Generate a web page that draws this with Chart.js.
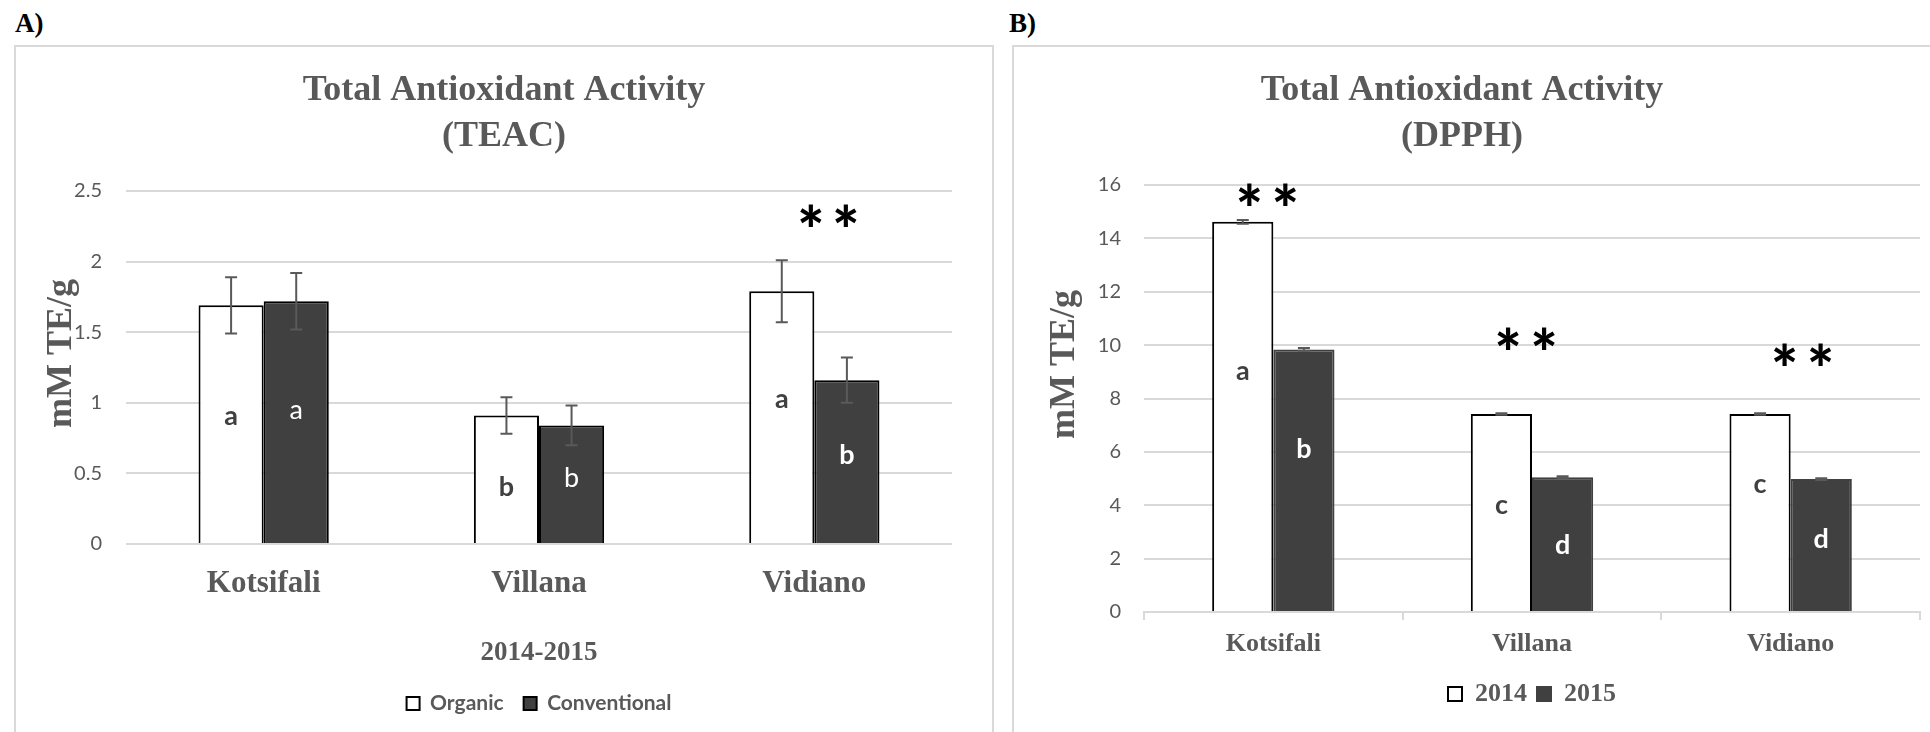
<!DOCTYPE html>
<html><head><meta charset="utf-8">
<script src="https://cdn.jsdelivr.net/npm/chart.js@4.4.1/dist/chart.umd.min.js"></script>
<style>
html,body{margin:0;padding:0;background:#fff;width:1930px;height:732px;overflow:hidden;position:relative}
.panel{position:absolute;border:2px solid #d9d9d9;box-sizing:border-box;pointer-events:none;z-index:2}
.lbl{position:absolute;font-family:"Liberation Serif",serif;font-weight:bold;font-size:27px;color:#000;line-height:27px}
.cw{position:absolute}
</style></head><body>
<div class="lbl" style="left:15px;top:10px">A)</div>
<div class="lbl" style="left:1009px;top:10px">B)</div>
<div class="panel" style="left:14px;top:45px;width:980px;height:760px"></div>
<div class="panel" style="left:1012px;top:45px;width:960px;height:760px"></div>
<div class="cw" style="left:16px;top:47px;width:977px;height:685px"><canvas id="cA"></canvas></div>
<div class="cw" style="left:1004px;top:47px;width:940px;height:685px"><canvas id="cB"></canvas></div>
<script>
// ---------- data ----------
const categories = ['Kotsifali', 'Villana', 'Vidiano'];

// Panel A: TEAC, 2014-2015
const teacSeriesNames = ['Organic', 'Conventional'];
const teacOrganic = [1.69, 0.91, 1.79];
const teacConventional = [1.72, 0.84, 1.16];
const teacOrganicErr = [0.20, 0.13, 0.22];
const teacConventionalErr = [0.20, 0.14, 0.16];
const teacOrganicLetters = ['a', 'b', 'a'];
const teacConventionalLetters = ['a', 'b', 'b'];
const teacStars = [null, null, 2.33];
const teacTickLabels = ['0', '0.5', '1', '1.5', '2', '2.5'];

// Panel B: DPPH, 2014 vs 2015
const dpphSeriesNames = ['2014', '2015'];
const dpph2014 = [14.62, 7.42, 7.42];
const dpph2015 = [9.84, 5.05, 4.98];
const dpph2014Err = [0.07, 0.03, 0.03];
const dpph2015Err = [0.05, 0.04, 0.03];
const dpph2014Letters = ['a', 'c', 'c'];
const dpph2015Letters = ['b', 'd', 'd'];
const dpphStars = [15.65, 10.24, 9.64];
const dpphTickLabels = ['0', '2', '4', '6', '8', '10', '12', '14', '16'];

// ---------- styles ----------
const GREY = '#595959';
const DARK = '#404040';
const SERIF = 'Liberation Serif';
const SANS = 'Lato';

const annotPlugin = {
  id: 'annot',
  afterDatasetsDraw(chart, args, o) {
    const ctx = chart.ctx, ys = chart.scales.y, xs = chart.scales.x;
    ctx.save();
    // error bars
    chart.data.datasets.forEach((ds, di) => {
      const meta = chart.getDatasetMeta(di);
      meta.data.forEach((bar, i) => {
        const v = ds.data[i], e = o.errors[di][i];
        const yT = ys.getPixelForValue(v + e), yB = ys.getPixelForValue(v - e);
        ctx.strokeStyle = o.errColor; ctx.lineWidth = 2;
        ctx.beginPath();
        ctx.moveTo(bar.x, yT); ctx.lineTo(bar.x, yB);
        ctx.moveTo(bar.x - o.cap, yT); ctx.lineTo(bar.x + o.cap, yT);
        ctx.moveTo(bar.x - o.cap, yB); ctx.lineTo(bar.x + o.cap, yB);
        ctx.stroke();
      });
    });
    // letters inside bars
    chart.data.datasets.forEach((ds, di) => {
      const meta = chart.getDatasetMeta(di);
      meta.data.forEach((bar, i) => {
        const st = o.letterStyle[di];
        const w = Array.isArray(st.weight) ? st.weight[i] : st.weight;
        ctx.font = w + ' ' + o.letterSize + 'px ' + SANS;
        ctx.fillStyle = st.color; ctx.textAlign = 'center'; ctx.textBaseline = 'alphabetic';
        const t = o.letters[di][i];
        const m = ctx.measureText(t);
        const cy = ys.getPixelForValue(ds.data[i] * o.letterFrac[di][i]);
        ctx.fillText(t, bar.x, cy + (m.actualBoundingBoxAscent - m.actualBoundingBoxDescent) / 2);
      });
    });
    // significance stars
    ctx.font = '900 ' + o.starSize + 'px ' + SANS;
    ctx.fillStyle = '#000'; ctx.textAlign = 'center'; ctx.textBaseline = 'alphabetic';
    const sm = ctx.measureText('*');
    o.stars.forEach((v, i) => {
      if (v === null) return;
      const cx = xs.getPixelForValue(i) + o.starDx[i];
      const cy = ys.getPixelForValue(v);
      const by = cy + (sm.actualBoundingBoxAscent - sm.actualBoundingBoxDescent) / 2;
      ctx.fillText('*', cx - o.starGap / 2, by);
      ctx.fillText('*', cx + o.starGap / 2, by);
    });
    ctx.restore();
  }
};

const yTitlePlugin = {
  id: 'ytitle',
  afterDraw(chart, args, o) {
    const ctx = chart.ctx, ca = chart.chartArea;
    ctx.save();
    ctx.translate(ca.left - o.dx, (ca.top + ca.bottom) / 2 + o.dy);
    ctx.rotate(-Math.PI / 2);
    ctx.font = 'bold 36px ' + SERIF;
    ctx.fillStyle = GREY; ctx.textAlign = 'center'; ctx.textBaseline = 'middle';
    ctx.fillText(o.text, 0, 0);
    ctx.restore();
  }
};

const titleFont = {family: SERIF, size: 36, weight: 'bold', lineHeight: 46 / 36};

// ---------- chart A ----------
new Chart(document.getElementById('cA'), {
  type: 'bar',
  data: {
    labels: categories,
    datasets: [
      {label: teacSeriesNames[0], data: teacOrganic, backgroundColor: '#ffffff', borderColor: '#000', borderWidth: 2},
      {label: teacSeriesNames[1], data: teacConventional, backgroundColor: DARK, borderColor: '#000', borderWidth: 2}
    ]
  },
  options: {
    responsive: true, maintainAspectRatio: false, animation: false,
    layout: {padding: {left: 40, right: 41, top: 0, bottom: 8}},
    datasets: {bar: {categoryPercentage: 0.473, barPercentage: 1}},
    plugins: {
      title: {display: true, text: ['Total Antioxidant Activity', '(TEAC)'], color: GREY, font: titleFont, padding: {top: 20.5, bottom: 31.5}},
      legend: {position: 'bottom', fullSize: false, labels: {color: GREY, font: {family: SANS, size: 21, weight: 'bold'}, boxWidth: 13, boxHeight: 13, padding: 20}},
      tooltip: {enabled: false},
      annot: {
        errors: [teacOrganicErr, teacConventionalErr], errColor: GREY, cap: 6,
        letters: [teacOrganicLetters, teacConventionalLetters],
        letterFrac: [[0.53, 0.455, 0.567], [0.543, 0.565, 0.551]],
        letterStyle: [{color: DARK, weight: 'bold'}, {color: '#ffffff', weight: ['normal', 'normal', 'bold']}],
        letterSize: 27,
        stars: teacStars, starDx: [0, 0, 14], starGap: 35, starSize: 64
      },
      ytitle: {text: 'mM TE/g', dx: 64, dy: -14}
    },
    scales: {
      x: {
        grid: {display: false}, border: {display: false},
        ticks: {color: GREY, font: {family: SERIF, size: 31, weight: 'bold'}, padding: 13},
        title: {display: true, text: '2014-2015', color: GREY, font: {family: SERIF, size: 27, weight: 'bold'}, padding: {top: 0, bottom: 4}},
        afterFit(s) { s.height = 129; }
      },
      y: {
        min: 0, max: 2.5,
        ticks: {stepSize: 0.5, color: GREY, font: {family: SANS, size: 20}, padding: 24,
                callback: (v, i) => teacTickLabels[i]},
        grid: {color: '#d9d9d9', lineWidth: 2, drawTicks: false},
        border: {display: false},
        afterFit(s) { s.width = 70; }
      }
    }
  },
  plugins: [annotPlugin, yTitlePlugin]
});

// ---------- chart B ----------
new Chart(document.getElementById('cB'), {
  type: 'bar',
  data: {
    labels: categories,
    datasets: [
      {label: dpphSeriesNames[0], data: dpph2014, backgroundColor: '#ffffff', borderColor: '#000', borderWidth: 2},
      {label: dpphSeriesNames[1], data: dpph2015, backgroundColor: DARK, borderColor: DARK, borderWidth: 2}
    ]
  },
  options: {
    responsive: true, maintainAspectRatio: false, animation: false,
    layout: {padding: {left: 0, right: 24, top: 0, bottom: 15}},
    datasets: {bar: {categoryPercentage: 0.473, barPercentage: 1}},
    plugins: {
      title: {display: true, text: ['Total Antioxidant Activity', '(DPPH)'], color: GREY, font: titleFont, padding: {top: 20.5, bottom: 25.5}},
      legend: {position: 'bottom', fullSize: false, labels: {color: GREY, font: {family: SERIF, size: 26, weight: 'bold'}, boxWidth: 14, boxHeight: 14, padding: 10}},
      tooltip: {enabled: false},
      annot: {
        errors: [dpph2014Err, dpph2015Err], errColor: GREY, cap: 6,
        letters: [dpph2014Letters, dpph2015Letters],
        letterFrac: [[0.613, 0.53, 0.638], [0.624, 0.504, 0.555]],
        letterStyle: [{color: DARK, weight: 'bold'}, {color: '#ffffff', weight: 'bold'}],
        letterSize: 27,
        stars: dpphStars, starDx: [-6, -6, 12], starGap: 36, starSize: 64
      },
      ytitle: {text: 'mM TE/g', dx: 79, dy: -34}
    },
    scales: {
      x: {
        grid: {display: true, drawOnChartArea: false, drawTicks: true, tickLength: 8, color: '#d9d9d9', lineWidth: 2},
        border: {display: true, color: '#d9d9d9', width: 2},
        ticks: {color: GREY, font: {family: SERIF, size: 26, weight: 'bold'}, padding: 9},
        afterFit(s) { s.height = 59; }
      },
      y: {
        min: 0, max: 16,
        ticks: {stepSize: 2, color: GREY, font: {family: SANS, size: 20}, padding: 23,
                callback: (v, i) => dpphTickLabels[i]},
        grid: {color: '#d9d9d9', lineWidth: 2, drawTicks: false},
        border: {display: false},
        afterFit(s) { s.width = 140; }
      }
    }
  },
  plugins: [annotPlugin, yTitlePlugin]
});
</script>
</body></html>
